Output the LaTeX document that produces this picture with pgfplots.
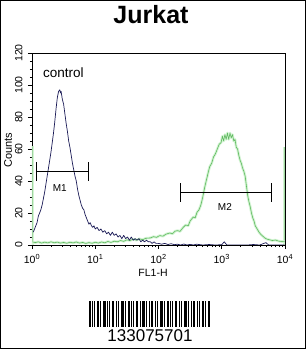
\documentclass[border=0pt]{standalone}
\usepackage{pgfplots}
\usepackage{pgfplotstable}
\pgfplotsset{compat=1.18}
\usepackage{fontspec}
\setmainfont{Liberation Sans}
\definecolor{navy}{RGB}{25,25,85}
\definecolor{gline}{RGB}{95,185,95}
\definecolor{gglow}{RGB}{212,244,212}
\pgfplotstableread{
l c
0.005 2
0.05 1.5
0.10 2
0.15 1.2
0.20 1.8
0.25 1.3
0.30 2
0.35 1.4
0.40 1.8
0.45 1.2
0.50 1.6
0.55 1.1
0.60 1.7
0.65 1.3
0.70 1.9
0.75 1.2
0.80 1.6
0.85 1.0
0.90 1.5
0.95 1.1
1.00 1.7
1.05 1.2
1.10 1.9
1.15 1.4
1.20 2.2
1.25 1.6
1.30 2.4
1.35 2.0
1.40 2.8
1.45 2.3
1.50 3.2
1.55 2.8
1.60 3.6
1.65 3.0
1.70 3.8
1.75 3.3
1.80 4.2
1.87 4.4
1.92 5.2
1.97 4.8
2.02 5.9
2.07 5.5
2.12 6.8
2.18 7.5
2.22 7.0
2.26 8.6
2.30 9.0
2.34 8.5
2.39 11
2.43 12.5
2.47 12
2.50 15
2.55 17.5
2.58 17
2.61 20.5
2.64 22
2.67 25
2.70 30
2.73 36
2.76 41
2.79 46
2.81 49
2.84 51
2.87 55
2.90 57
2.93 60
2.96 63
2.99 64
3.01 68
3.03 65
3.05 69
3.07 66
3.09 70
3.11 66
3.13 70
3.15 67
3.17 69
3.19 65
3.21 66
3.23 61
3.25 60
3.27 56
3.29 53
3.31 51
3.33 48
3.35 46
3.37 43
3.39 37
3.41 31
3.43 27
3.45 24
3.47 20
3.49 17
3.51 15
3.53 12
3.56 10
3.59 8
3.62 6.5
3.65 5.5
3.68 4.4
3.72 3.6
3.76 3.2
3.80 2.8
3.85 3.1
3.90 2.4
3.95 2.2
3.995 2
}\greendata
\pgfplotstableread{
l c
0.02 8
0.05 11
0.08 14
0.10 18
0.12 20
0.14 22
0.16 25
0.18 29
0.20 33
0.22 38
0.24 43
0.26 48
0.28 53
0.30 58
0.32 64
0.34 70
0.36 77
0.38 85
0.40 92
0.42 96
0.44 97
0.45 95
0.46 96
0.48 91
0.50 88
0.52 82
0.54 76
0.56 71
0.58 65
0.60 61
0.62 56
0.64 51
0.66 47
0.68 43
0.70 40
0.72 35
0.74 31
0.76 28
0.78 25
0.80 23
0.82 22
0.84 19
0.86 17
0.88 15
0.90 13
0.92 14
0.94 12
0.96 11
0.98 12
1.00 10
1.03 11
1.06 9
1.09 10
1.12 8
1.15 9
1.18 7
1.21 8
1.24 6
1.27 8
1.30 6
1.33 7
1.36 5
1.39 6
1.42 4
1.45 6
1.48 4
1.51 5
1.54 3
1.57 5
1.60 3
1.63 4
1.66 3
1.69 4
1.72 2
1.75 3
1.78 2
1.81 3
1.84 2
1.87 2
1.90 1
1.93 2
1.96 1
2.00 1
2.05 0.5
2.10 1
2.15 0.3
2.20 0.8
2.25 0.2
2.30 0.5
2.35 0
2.40 0.6
2.45 0
2.50 0.4
2.55 0
2.60 0.5
2.70 0
2.80 0.3
2.90 0
3.00 0.2
3.04 2
3.08 0
3.20 0
3.40 0
3.50 0.3
3.60 0
3.70 1.5
3.74 0
3.90 0
3.995 0
}\controldata
\begin{document}
\begin{tikzpicture}[x=1pt,y=1pt]
\useasboundingbox (0,0) rectangle (306,349);
\fill[white] (0,0) rectangle (306,349);
\draw[line width=1.4pt] (0.7,0.7) rectangle (305.3,348.3);
\node[font=\fontsize{25}{28}\selectfont\bfseries] at (151,334) {Jurkat};
\begin{axis}[
  at={(32pt,104pt)}, anchor=south west,
  scale only axis, width=253pt, height=192pt,
  xmin=0, xmax=4, ymin=0, ymax=120,
  axis line style={line width=0.8pt},
  tick style={black, line width=0.6pt},
  tick align=outside, tick pos=left,
  major tick length=4pt, minor tick length=2.2pt,
  xtick={0,1,2,3,4},
  xticklabels={10\textsuperscript{0},10\textsuperscript{1},10\textsuperscript{2},10\textsuperscript{3},10\textsuperscript{4}},
  minor xtick={0.301,0.477,0.602,0.699,0.778,0.845,0.903,0.954,
               1.301,1.477,1.602,1.699,1.778,1.845,1.903,1.954,
               2.301,2.477,2.602,2.699,2.778,2.845,2.903,2.954,
               3.301,3.477,3.602,3.699,3.778,3.845,3.903,3.954},
  ytick={0,20,40,60,80,100,120},
  minor y tick num=3,
  /pgf/number format/assume math mode=true,
  ticklabel style={font=\fontsize{10.5}{12}\selectfont},
  xticklabel style={yshift=-2pt},
  yticklabel style={rotate=90, anchor=south, yshift=2pt},
]
% edge pile-ups (glow only)
\addplot[gglow, line width=3pt] coordinates {(0.01,0) (0.01,62)};
\addplot[gglow, line width=3pt] coordinates {(3.99,0) (3.99,61)};
\addplot[gline!60, line width=0.5pt] coordinates {(0.005,2) (0.005,62)};
\addplot[gline!60, line width=0.5pt] coordinates {(3.995,2) (3.995,61)};
% green histogram: glow then line
\addplot[gglow, line width=2.6pt, line join=round] table {\greendata};
\addplot[gline, line width=0.6pt, line join=round] table {\greendata};
% control histogram
\addplot[navy, line width=0.7pt, line join=round] table {\controldata};
% M1 / M2 markers
\addplot[black, line width=0.7pt] coordinates {(0.063,46) (0.885,46)};
\addplot[black, line width=0.7pt] coordinates {(0.063,40) (0.063,52)};
\addplot[black, line width=0.7pt] coordinates {(0.885,40) (0.885,52)};
\addplot[black, line width=0.7pt] coordinates {(2.34,33) (3.79,33)};
\addplot[black, line width=0.7pt] coordinates {(2.34,27) (2.34,39)};
\addplot[black, line width=0.7pt] coordinates {(3.79,27) (3.79,39)};
\node[font=\fontsize{10}{12}\selectfont] at (axis cs:0.44,35.5) {M1};
\node[font=\fontsize{10}{12}\selectfont] at (axis cs:3.05,23.5) {M2};
\node[font=\fontsize{13.5}{15}\selectfont, anchor=west, inner sep=0pt] at (axis cs:0.174,108) {control};
\end{axis}
\node[font=\fontsize{10.5}{12}\selectfont] at (153,76) {FL1-H};
\node[font=\fontsize{11}{12}\selectfont, rotate=90] at (8,199) {Counts};
% barcode
\foreach \bx/\bw in {0/2,3/1,5/1,8/2,11/1,14/3,18/1,20/1,23/2,27/1,29/1,32/3,36/1,39/2,42/1,44/1,47/2,51/1,53/3,57/1,60/1,62/2,66/1,68/1,71/3,75/1,78/2,81/1,83/1,86/2,90/1,92/1,95/3,99/1,102/1,104/2,108/1,110/1,113/2,116/1,119/2}
  \fill[black] (89+\bx,22) rectangle (89+\bx+\bw,48);
\node[font=\fontsize{17}{19}\selectfont] at (150,13) {133075701};
\end{tikzpicture}
\end{document}
